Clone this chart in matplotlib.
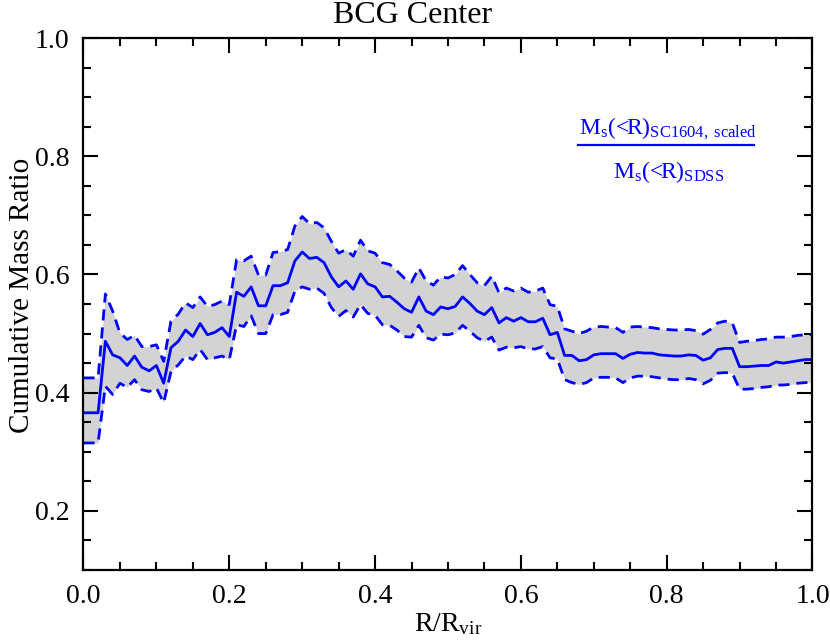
import numpy as np
import matplotlib
matplotlib.use("Agg")
import matplotlib.pyplot as plt
from matplotlib.ticker import MultipleLocator, FormatStrFormatter

plt.rcParams['font.family'] = ['Liberation Serif', 'DejaVu Serif']
plt.rcParams['mathtext.fontset'] = 'custom'
plt.rcParams['mathtext.rm'] = 'Liberation Serif'
plt.rcParams['mathtext.it'] = 'Liberation Serif:italic'

r_vir = np.round(np.arange(0, 101) * 0.01, 2)

ratio_mid = [
    0.366, 0.366, 0.366, 0.487, 0.464, 0.459, 0.446, 0.462, 0.443, 0.437,
    0.446, 0.416, 0.476, 0.487, 0.506, 0.495, 0.517, 0.498, 0.502, 0.510,
    0.495, 0.570, 0.563, 0.579, 0.547, 0.547, 0.581, 0.581, 0.586, 0.623,
    0.638, 0.627, 0.629, 0.620, 0.596, 0.579, 0.589, 0.575, 0.601, 0.584,
    0.579, 0.562, 0.563, 0.553, 0.542, 0.536, 0.562, 0.538, 0.532, 0.545,
    0.542, 0.546, 0.562, 0.551, 0.538, 0.532, 0.544, 0.518, 0.527, 0.521,
    0.527, 0.520, 0.520, 0.526, 0.498, 0.502, 0.463, 0.463, 0.454, 0.456,
    0.464, 0.466, 0.466, 0.466, 0.458, 0.465, 0.468, 0.467, 0.467, 0.464,
    0.463, 0.462, 0.462, 0.464, 0.463, 0.455, 0.459, 0.473, 0.475, 0.475,
    0.444, 0.444, 0.445, 0.446, 0.446, 0.452, 0.450, 0.452, 0.454, 0.456,
    0.456,
]

ratio_upper = [
    0.425, 0.425, 0.425, 0.567, 0.538, 0.501, 0.490, 0.497, 0.478, 0.478,
    0.481, 0.453, 0.521, 0.533, 0.552, 0.544, 0.562, 0.546, 0.549, 0.555,
    0.549, 0.625, 0.623, 0.631, 0.599, 0.599, 0.637, 0.639, 0.642, 0.682,
    0.698, 0.686, 0.688, 0.679, 0.656, 0.636, 0.642, 0.631, 0.658, 0.640,
    0.636, 0.620, 0.617, 0.606, 0.594, 0.587, 0.611, 0.589, 0.582, 0.596,
    0.594, 0.600, 0.615, 0.600, 0.586, 0.581, 0.597, 0.569, 0.577, 0.572,
    0.577, 0.570, 0.572, 0.577, 0.549, 0.546, 0.508, 0.504, 0.500, 0.504,
    0.511, 0.512, 0.511, 0.510, 0.502, 0.511, 0.512, 0.511, 0.510, 0.508,
    0.507, 0.506, 0.506, 0.507, 0.505, 0.499, 0.507, 0.518, 0.521, 0.518,
    0.485, 0.487, 0.488, 0.490, 0.491, 0.494, 0.494, 0.495, 0.497, 0.498,
    0.498,
]

ratio_lower = [
    0.315, 0.315, 0.315, 0.411, 0.397, 0.416, 0.409, 0.422, 0.405, 0.402,
    0.408, 0.383, 0.436, 0.447, 0.462, 0.456, 0.473, 0.456, 0.459, 0.462,
    0.456, 0.515, 0.512, 0.530, 0.500, 0.500, 0.532, 0.532, 0.536, 0.572,
    0.579, 0.575, 0.577, 0.568, 0.544, 0.529, 0.539, 0.528, 0.549, 0.534,
    0.531, 0.515, 0.514, 0.506, 0.495, 0.494, 0.514, 0.493, 0.489, 0.499,
    0.498, 0.501, 0.514, 0.504, 0.493, 0.487, 0.494, 0.472, 0.477, 0.476,
    0.478, 0.474, 0.474, 0.478, 0.459, 0.457, 0.422, 0.417, 0.414, 0.417,
    0.425, 0.426, 0.426, 0.425, 0.417, 0.425, 0.428, 0.428, 0.427, 0.425,
    0.423, 0.422, 0.422, 0.424, 0.422, 0.415, 0.421, 0.433, 0.434, 0.433,
    0.406, 0.406, 0.407, 0.409, 0.410, 0.413, 0.413, 0.414, 0.416, 0.417,
    0.418,
]

fig = plt.figure(figsize=(8.3, 6.42), dpi=100)
ax = fig.add_axes([0.1006, 0.1121, 0.8783, 0.8287])

ax.fill_between(r_vir, ratio_lower, ratio_upper, color='#d3d3d3', lw=0)
ax.plot(r_vir, ratio_mid, color='blue', lw=2.0)
ax.plot(r_vir, ratio_upper, color='blue', lw=2.0, ls=(0, (4, 2.5)))
ax.plot(r_vir, ratio_lower, color='blue', lw=2.0, ls=(0, (4, 2.5)))

ax.set_xlim(0, 1.0)
ax.set_ylim(0.1, 1.0)
ax.xaxis.set_major_locator(MultipleLocator(0.2))
ax.xaxis.set_minor_locator(MultipleLocator(0.05))
ax.yaxis.set_major_locator(MultipleLocator(0.2))
ax.yaxis.set_minor_locator(MultipleLocator(0.05))
ax.xaxis.set_major_formatter(FormatStrFormatter('%.1f'))
ax.yaxis.set_major_formatter(FormatStrFormatter('%.1f'))
ax.tick_params(which='both', direction='in', top=True, right=True, width=1.5,
               labelsize=20, colors='black')
ax.tick_params(which='major', length=11, pad=10)
ax.tick_params(which='minor', length=5.5)
for s in ax.spines.values():
    s.set_linewidth(1.6)

fig.text(0.497, 0.976, 'BCG Center', fontsize=23, ha='center', va='center')
ax.set_xlabel(r'R/R$_{\mathrm{vir}}$', fontsize=20, labelpad=2)
fig.text(0.026, 0.54, 'Cumulative Mass Ratio', fontsize=21, rotation=90,
         ha='center', va='center')

ax.text(0.802, 0.83, r'M$_{\mathrm{s}}$(<R)$_{\mathrm{SC1604,\ scaled}}$',
        transform=ax.transAxes, color='blue', fontsize=17, ha='center', va='center')
ax.plot([0.679, 0.92], [0.799, 0.799], transform=ax.transAxes, color='blue', lw=1.6)
ax.text(0.802, 0.748, r'M$_{\mathrm{s}}$(<R)$_{\mathrm{SDSS}}$',
        transform=ax.transAxes, color='blue', fontsize=17, ha='center', va='center')

fig.savefig('out.png', dpi=100)
